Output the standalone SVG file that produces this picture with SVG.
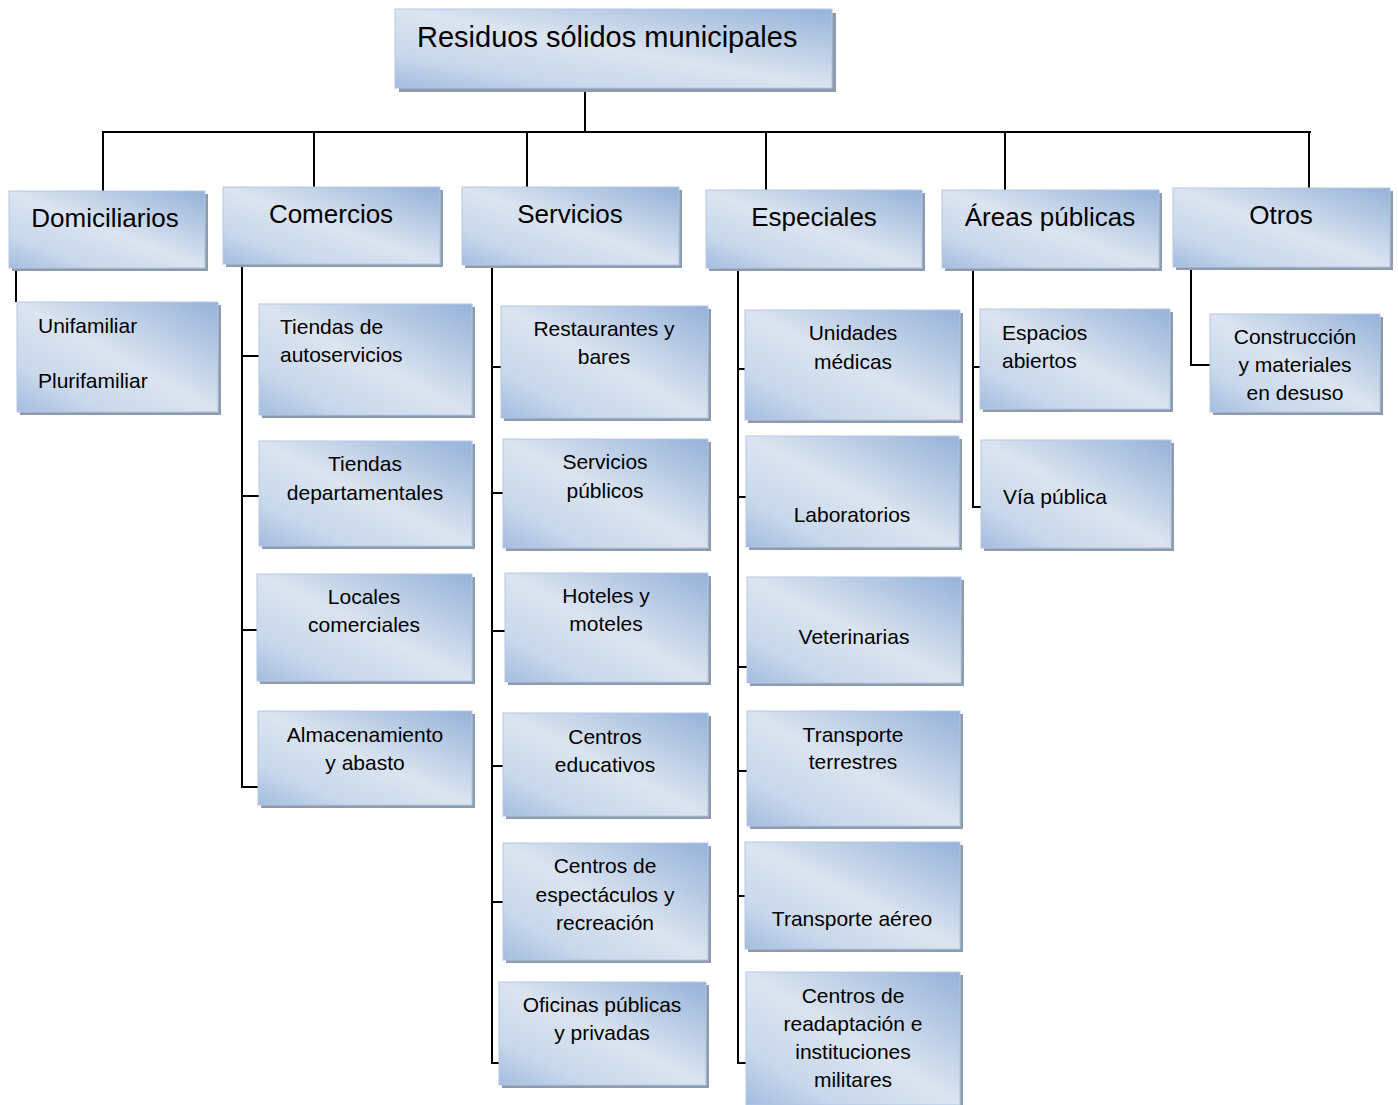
<svg xmlns="http://www.w3.org/2000/svg" width="1398" height="1105" viewBox="0 0 1398 1105">
  <defs>
    <linearGradient id="boxFill" x1="1" y1="0" x2="0" y2="1">
      <stop offset="0" stop-color="#95b2d9"/>
      <stop offset="0.5" stop-color="#dbe4f0"/>
      <stop offset="0.78" stop-color="#c9d8ec"/>
      <stop offset="1" stop-color="#a3bcdf"/>
    </linearGradient>
  </defs>
  <style>
    .shadow { fill: #8e9bad; }
    .box { fill: url(#boxFill); stroke: #b3c7e3; stroke-width: 1; }
    text { font-family: "Liberation Sans", Arial, sans-serif; fill: #000; }
    .t0 { font-size: 29px; }
    .t1 { font-size: 26px; text-anchor: middle; }
    .t2 { font-size: 21px; text-anchor: middle; }
    .t2l { font-size: 21px; }
    .wire { stroke: #000; stroke-width: 2; fill: none; }
  </style>
  <rect width="1398" height="1105" fill="#fff"/>

  <!-- connectors -->
  <g id="connectors" class="wire">
    <path d="M585 88V132M102 132H1311M103 132V191M314 132V187M527 132V187M766 132V190M1005 132V190M1309 132V188"/>
    <!-- Domiciliarios -->
    <path d="M16 268V302"/>
    <!-- Comercios -->
    <path d="M242 265V787H258M242 356H259M242 496H259M242 630H257"/>
    <!-- Servicios -->
    <path d="M492 265V1063H499M492 367H501M492 493H503M492 631H505M492 766H503M492 902H503"/>
    <!-- Especiales -->
    <path d="M738 268V1063H746M738 369H745M738 497H746M738 667H747M738 771H747M738 896H745"/>
    <!-- Áreas públicas -->
    <path d="M973 268V507H981M973 367H980"/>
    <!-- Otros -->
    <path d="M1191 267V365H1210"/>
  </g>

  <!-- root -->
  <g id="n-root">
    <rect class="shadow" x="399" y="13" width="437" height="79"/>
    <rect class="box" x="395" y="9" width="437" height="79"/>
    <text class="t0" x="417" y="47">Residuos sólidos municipales</text>
  </g>

  <!-- level 1 -->
  <g id="n-domiciliarios">
    <rect class="shadow" x="12" y="194" width="196" height="77"/>
    <rect class="box" x="9" y="191" width="196" height="77"/>
    <text class="t1" x="105" y="227">Domiciliarios</text>
  </g>
  <g id="n-comercios">
    <rect class="shadow" x="226" y="190" width="217" height="77"/>
    <rect class="box" x="223" y="187" width="217" height="77"/>
    <text class="t1" x="331" y="223">Comercios</text>
  </g>
  <g id="n-servicios">
    <rect class="shadow" x="465" y="190" width="217" height="78"/>
    <rect class="box" x="462" y="187" width="217" height="78"/>
    <text class="t1" x="570" y="223">Servicios</text>
  </g>
  <g id="n-especiales">
    <rect class="shadow" x="709" y="193" width="216" height="78"/>
    <rect class="box" x="706" y="190" width="216" height="78"/>
    <text class="t1" x="814" y="226">Especiales</text>
  </g>
  <g id="n-areas">
    <rect class="shadow" x="945" y="193" width="217" height="78"/>
    <rect class="box" x="942" y="190" width="217" height="78"/>
    <text class="t1" x="1050" y="226">Áreas públicas</text>
  </g>
  <g id="n-otros">
    <rect class="shadow" x="1176" y="191" width="217" height="79"/>
    <rect class="box" x="1173" y="188" width="217" height="79"/>
    <text class="t1" x="1281" y="224">Otros</text>
  </g>

  <!-- Domiciliarios children -->
  <g id="n-vivienda">
    <rect class="shadow" x="20" y="305" width="201" height="110"/>
    <rect class="box" x="17" y="302" width="201" height="110"/>
    <text class="t2l" x="38" y="333">Unifamiliar</text>
    <text class="t2l" x="38" y="388">Plurifamiliar</text>
  </g>

  <!-- Comercios children -->
  <g id="n-autoservicios">
    <rect class="shadow" x="262" y="307" width="213" height="111"/>
    <rect class="box" x="259" y="304" width="213" height="111"/>
    <text class="t2l" x="280" y="334">Tiendas de</text>
    <text class="t2l" x="280" y="362">autoservicios</text>
  </g>
  <g id="n-departamentales">
    <rect class="shadow" x="262" y="444" width="213" height="105"/>
    <rect class="box" x="259" y="441" width="213" height="105"/>
    <text class="t2" x="365" y="471">Tiendas</text>
    <text class="t2" x="365" y="500">departamentales</text>
  </g>
  <g id="n-locales">
    <rect class="shadow" x="260" y="577" width="215" height="107"/>
    <rect class="box" x="257" y="574" width="215" height="107"/>
    <text class="t2" x="364" y="604">Locales</text>
    <text class="t2" x="364" y="632">comerciales</text>
  </g>
  <g id="n-almacenamiento">
    <rect class="shadow" x="261" y="714" width="214" height="94"/>
    <rect class="box" x="258" y="711" width="214" height="94"/>
    <text class="t2" x="365" y="742">Almacenamiento</text>
    <text class="t2" x="365" y="770">y abasto</text>
  </g>

  <!-- Servicios children -->
  <g id="n-restaurantes">
    <rect class="shadow" x="504" y="309" width="207" height="112"/>
    <rect class="box" x="501" y="306" width="207" height="112"/>
    <text class="t2" x="604" y="336">Restaurantes y</text>
    <text class="t2" x="604" y="364">bares</text>
  </g>
  <g id="n-servpublicos">
    <rect class="shadow" x="506" y="442" width="205" height="109"/>
    <rect class="box" x="503" y="439" width="205" height="109"/>
    <text class="t2" x="605" y="469">Servicios</text>
    <text class="t2" x="605" y="498">públicos</text>
  </g>
  <g id="n-hoteles">
    <rect class="shadow" x="508" y="576" width="203" height="109"/>
    <rect class="box" x="505" y="573" width="203" height="109"/>
    <text class="t2" x="606" y="603">Hoteles y</text>
    <text class="t2" x="606" y="631">moteles</text>
  </g>
  <g id="n-educativos">
    <rect class="shadow" x="506" y="716" width="205" height="103"/>
    <rect class="box" x="503" y="713" width="205" height="103"/>
    <text class="t2" x="605" y="744">Centros</text>
    <text class="t2" x="605" y="772">educativos</text>
  </g>
  <g id="n-espectaculos">
    <rect class="shadow" x="506" y="846" width="205" height="117"/>
    <rect class="box" x="503" y="843" width="205" height="117"/>
    <text class="t2" x="605" y="873">Centros de</text>
    <text class="t2" x="605" y="902">espectáculos y</text>
    <text class="t2" x="605" y="930">recreación</text>
  </g>
  <g id="n-oficinas">
    <rect class="shadow" x="502" y="985" width="207" height="103"/>
    <rect class="box" x="499" y="982" width="207" height="103"/>
    <text class="t2" x="602" y="1012">Oficinas públicas</text>
    <text class="t2" x="602" y="1040">y privadas</text>
  </g>

  <!-- Especiales children -->
  <g id="n-medicas">
    <rect class="shadow" x="748" y="313" width="215" height="110"/>
    <rect class="box" x="745" y="310" width="215" height="110"/>
    <text class="t2" x="853" y="340">Unidades</text>
    <text class="t2" x="853" y="369">médicas</text>
  </g>
  <g id="n-laboratorios">
    <rect class="shadow" x="749" y="439" width="213" height="111"/>
    <rect class="box" x="746" y="436" width="213" height="111"/>
    <text class="t2" x="852" y="522">Laboratorios</text>
  </g>
  <g id="n-veterinarias">
    <rect class="shadow" x="750" y="580" width="214" height="106"/>
    <rect class="box" x="747" y="577" width="214" height="106"/>
    <text class="t2" x="854" y="644">Veterinarias</text>
  </g>
  <g id="n-terrestres">
    <rect class="shadow" x="750" y="714" width="213" height="115"/>
    <rect class="box" x="747" y="711" width="213" height="115"/>
    <text class="t2" x="853" y="742">Transporte</text>
    <text class="t2" x="853" y="769">terrestres</text>
  </g>
  <g id="n-aereo">
    <rect class="shadow" x="748" y="845" width="215" height="107"/>
    <rect class="box" x="745" y="842" width="215" height="107"/>
    <text class="t2" x="852" y="926">Transporte aéreo</text>
  </g>
  <g id="n-readaptacion">
    <rect class="shadow" x="749" y="975" width="214" height="133"/>
    <rect class="box" x="746" y="972" width="214" height="133"/>
    <text class="t2" x="853" y="1003">Centros de</text>
    <text class="t2" x="853" y="1031">readaptación e</text>
    <text class="t2" x="853" y="1059">instituciones</text>
    <text class="t2" x="853" y="1087">militares</text>
  </g>

  <!-- Áreas públicas children -->
  <g id="n-espacios">
    <rect class="shadow" x="983" y="312" width="190" height="100"/>
    <rect class="box" x="980" y="309" width="190" height="100"/>
    <text class="t2l" x="1002" y="340">Espacios</text>
    <text class="t2l" x="1002" y="368">abiertos</text>
  </g>
  <g id="n-via">
    <rect class="shadow" x="984" y="443" width="190" height="108"/>
    <rect class="box" x="981" y="440" width="190" height="108"/>
    <text class="t2l" x="1003" y="504">Vía pública</text>
  </g>

  <!-- Otros children -->
  <g id="n-construccion">
    <rect class="shadow" x="1213" y="317" width="170" height="98"/>
    <rect class="box" x="1210" y="314" width="170" height="98"/>
    <text class="t2" x="1295" y="344">Construcción</text>
    <text class="t2" x="1295" y="372">y materiales</text>
    <text class="t2" x="1295" y="400">en desuso</text>
  </g>
</svg>
